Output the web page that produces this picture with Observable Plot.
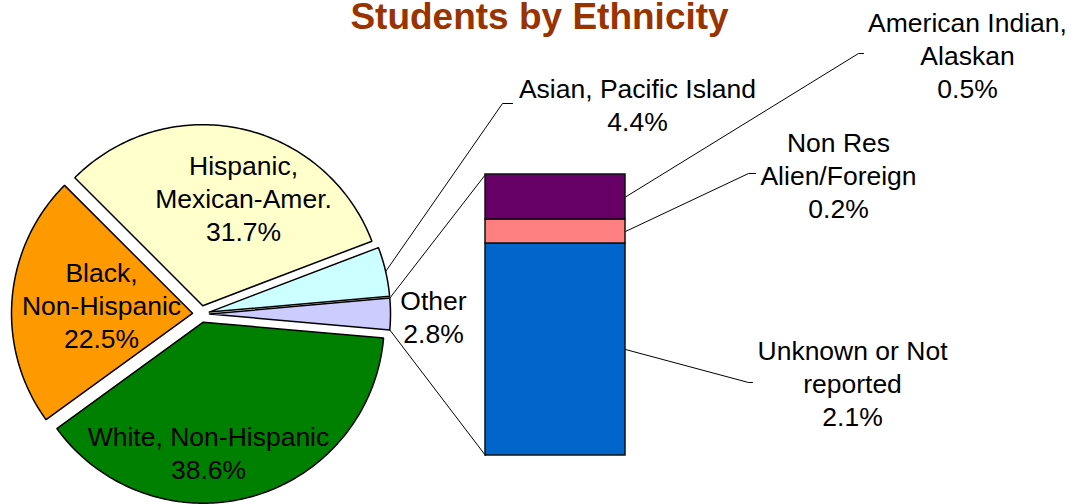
<!DOCTYPE html>
<html><head><meta charset="utf-8">
<script src="https://cdn.jsdelivr.net/npm/d3@7"></script>
<script src="https://cdn.jsdelivr.net/npm/@observablehq/plot@0.6"></script>
<style>body{margin:0;background:#fff} #chart svg{display:block}</style>
</head><body><div id="chart"></div>
<script>
// ---------- data ----------
const title = "Students by Ethnicity";
const pieCategories = ["Other", "White, Non-Hispanic", "Black, Non-Hispanic", "Hispanic, Mexican-Amer.", "Asian, Pacific Island"];
const pieLabelLines = [["Other"], ["White, Non-Hispanic"], ["Black,", "Non-Hispanic"], ["Hispanic,", "Mexican-Amer."], ["Asian, Pacific Island"]];
const pieValues = [2.8, 38.6, 22.5, 31.7, 4.4];
const barCategories = ["Unknown or Not reported", "Non Res Alien/Foreign", "American Indian, Alaskan"];
const barLabelLines = [["Unknown or Not", "reported"], ["Non Res", "Alien/Foreign"], ["American Indian,", "Alaskan"]];
const barValues = [2.12, 0.24, 0.45];

// ---------- styles ----------
const pieColors = ["#CCCCFF", "#008000", "#FF9900", "#FFFFCC", "#CCFFFF"];
const barColors = ["#0066CC", "#FF8080", "#660066"];
const titleColor = "#993300";
const FONT = "'Liberation Sans', Arial, Helvetica, sans-serif";
const FS = 26.5, LH = 33 / 26.5;

// ---------- layout ----------
const W = 1078, H = 504;
const pieGeo = {cx: 200.5, cy: 313.5, r: 181, explode: 8.5};
const barGeo = {x0: 485, x1: 625, top: 174, bottom: 455};
const pieLabelPos = [[433, 315], [208, 451], [101, 304], [243, 197], [637, 103]];
const barLabelPos = [[852, 382], [838, 174], [967, 54]];
const barLeaderElbows = [[[748, 382], [752, 382]], [[748, 173], [755, 173]], [[858, 53], [863, 53]]];
const asianLeaderElbow = [[502, 103], [512, 103]];

const fmt = v => d3.format(".1f")(v) + "%";

// ---------- pie geometry (clockwise, "Other" centred at 3 o'clock) ----------
const total = d3.sum(pieValues);
let a = -pieValues[0] / total * Math.PI;
const slices = pieValues.map((v, i) => {
  const a0 = a, a1 = a + v / total * 2 * Math.PI; a = a1;
  const mid = (a0 + a1) / 2;
  const ox = pieGeo.cx + pieGeo.explode * Math.cos(mid);
  const oy = pieGeo.cy + pieGeo.explode * Math.sin(mid);
  const pts = [{x: ox, y: oy}];
  const n = Math.max(4, Math.ceil((a1 - a0) / (Math.PI / 180)));
  for (let k = 0; k <= n; k++) {
    const t = a0 + (a1 - a0) * k / n;
    pts.push({x: ox + pieGeo.r * Math.cos(t), y: oy + pieGeo.r * Math.sin(t)});
  }
  pts.push({x: ox, y: oy});
  return {i, a0, a1, mid, ox, oy, pts};
});

// ---------- bar geometry ----------
const barTotal = d3.sum(barValues);
const kBar = (barGeo.bottom - barGeo.top) / barTotal;
let cum = 0;
const bars = barValues.map((v, i) => {
  const y1 = barGeo.bottom - cum * kBar; cum += v;
  const y2 = barGeo.bottom - cum * kBar;
  return {i, x1: barGeo.x0, x2: barGeo.x1, y1, y2, fill: barColors[i]};
});

// connector lines from the "Other" slice to the bar
const other = slices[0];
const pOther = t => ({x: other.ox + pieGeo.r * Math.cos(t), y: other.oy + pieGeo.r * Math.sin(t)});
const connectors = [
  [pOther(other.a0), {x: barGeo.x0, y: barGeo.top}],
  [pOther(other.a1), {x: barGeo.x0, y: barGeo.bottom}]
];

// leader lines
const asian = slices[4];
const leaders = [];
leaders.push([{x: asian.ox + pieGeo.r * Math.cos(asian.mid), y: asian.oy + pieGeo.r * Math.sin(asian.mid)},
  ...asianLeaderElbow.map(([x, y]) => ({x, y}))]);
bars.forEach((b, i) => {
  leaders.push([{x: barGeo.x1, y: (b.y1 + b.y2) / 2}, ...barLeaderElbows[i].map(([x, y]) => ({x, y}))]);
});

// texts
const pieTexts = pieCategories.map((c, i) => ({
  x: pieLabelPos[i][0], y: pieLabelPos[i][1],
  text: [...pieLabelLines[i], fmt(pieValues[i])].join("\n")
}));
const barTexts = barCategories.map((c, i) => ({
  x: barLabelPos[i][0], y: barLabelPos[i][1],
  text: [...barLabelLines[i], fmt(barValues[i])].join("\n")
}));

const marks = [];
slices.forEach(s => marks.push(Plot.line(s.pts, {x: "x", y: "y", fill: pieColors[s.i], stroke: "#000", strokeWidth: 1.5, strokeLinejoin: "miter"})));
connectors.forEach(c => marks.push(Plot.line(c, {x: "x", y: "y", stroke: "#000", strokeWidth: 1})));
leaders.forEach(l => marks.push(Plot.line(l, {x: "x", y: "y", stroke: "#000", strokeWidth: 1})));
marks.push(Plot.rect(bars, {x1: "x1", x2: "x2", y1: "y1", y2: "y2", fill: "fill", stroke: "#111", strokeWidth: 1.5}));
marks.push(Plot.text(pieTexts, {x: "x", y: "y", text: "text", fontSize: FS, lineHeight: LH, fill: "#000"}));
marks.push(Plot.text(barTexts, {x: "x", y: "y", text: "text", fontSize: FS, lineHeight: LH, fill: "#000"}));
marks.push(Plot.text([title], {frameAnchor: "top", dy: 2, fontSize: 37, fontWeight: "bold", fill: titleColor}));

const chart = Plot.plot({
  width: W, height: H, margin: 0,
  x: {domain: [0, W], range: [0, W], axis: null},
  y: {domain: [0, H], range: [0, H], axis: null},
  color: {type: "identity"},
  style: {fontFamily: FONT, background: "#fff", overflow: "visible"},
  marks
});
document.getElementById("chart").appendChild(chart);
</script>
</body></html>
